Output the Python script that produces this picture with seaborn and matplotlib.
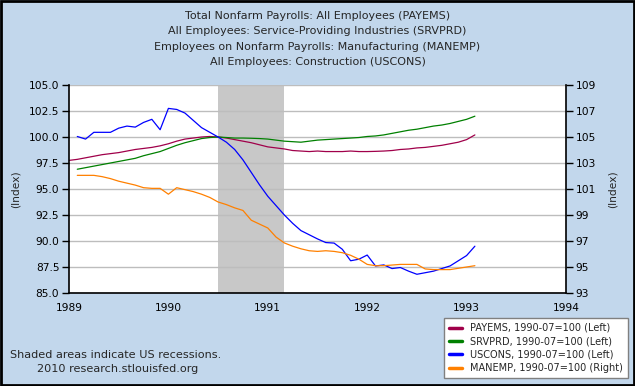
import numpy as np
import pandas as pd
import matplotlib
matplotlib.use("Agg")
import matplotlib.pyplot as plt
import seaborn as sns
from matplotlib.patches import Rectangle

# monthly index values, 1990-07 = 100
payems = [97.75, 97.85, 98.0, 98.15, 98.3, 98.4, 98.5, 98.65, 98.8, 98.9,
          99.0, 99.15, 99.35, 99.6, 99.8, 99.9, 100.0, 100.05, 100.0, 99.9,
          99.75, 99.6, 99.45, 99.25, 99.05, 98.95, 98.85, 98.7, 98.65, 98.6,
          98.65, 98.6, 98.6, 98.6, 98.65, 98.6, 98.6, 98.62, 98.65, 98.7,
          98.8, 98.85, 98.95, 99.0, 99.1, 99.2, 99.35, 99.5, 99.75, 100.2]
srvprd = [96.9, 97.05, 97.2, 97.35, 97.5, 97.65, 97.8, 97.95, 98.2, 98.4,
          98.6, 98.9, 99.2, 99.45, 99.65, 99.85, 99.95, 100.0, 99.95, 99.9,
          99.9, 99.88, 99.85, 99.8, 99.7, 99.6, 99.55, 99.5, 99.6, 99.7,
          99.75, 99.8, 99.85, 99.9, 99.95, 100.05, 100.1, 100.2, 100.35, 100.5,
          100.65, 100.75, 100.9, 101.05, 101.15, 101.3, 101.5, 101.7, 102.0]
uscons = [100.05, 99.8, 100.45, 100.45, 100.45, 100.85, 101.05, 100.95, 101.4, 101.7,
          100.7, 102.75, 102.65, 102.3, 101.6, 100.9, 100.45, 100.0, 99.5, 98.8,
          97.8, 96.6, 95.4, 94.3, 93.4, 92.5, 91.7, 91.0, 90.6, 90.2,
          89.85, 89.8, 89.2, 88.1, 88.25, 88.65, 87.6, 87.7, 87.35, 87.45,
          87.1, 86.8, 86.95, 87.1, 87.35, 87.6, 88.1, 88.6, 89.5]
manemp = [102.05, 102.05, 102.05, 101.95, 101.8, 101.6, 101.45, 101.3, 101.1, 101.05,
          101.05, 100.6, 101.1, 100.95, 100.8, 100.6, 100.35, 100.0, 99.8, 99.55,
          99.35, 98.6, 98.3, 98.0, 97.3, 96.85, 96.6, 96.4, 96.25, 96.2,
          96.25, 96.2, 96.1, 95.9, 95.6, 95.2, 95.1, 95.1, 95.15, 95.2,
          95.2, 95.2, 94.85, 94.8, 94.8, 94.8, 94.9, 95.0, 95.1]

# payems starts Jan 1989, the others Feb 1989 (decimal years)
t_pay = 1989 + np.arange(len(payems)) / 12
t_oth = 1989 + (np.arange(len(srvprd)) + 1) / 12
recession = (1990 + 6 / 12, 1991 + 2 / 12)

titles = ["Total Nonfarm Payrolls: All Employees (PAYEMS)",
          "All Employees: Service-Providing Industries (SRVPRD)",
          "Employees on Nonfarm Payrolls: Manufacturing (MANEMP)",
          "All Employees: Construction (USCONS)"]
labels = ["PAYEMS, 1990-07=100 (Left)", "SRVPRD, 1990-07=100 (Left)",
          "USCONS, 1990-07=100 (Left)", "MANEMP, 1990-07=100 (Right)"]
colors = ["#a0004a", "#008000", "#0000ff", "#ff8000"]

sns.set_style("white")
plt.rcParams['font.family'] = ['DejaVu Sans']

bg = "#c2d7ec"
fig = plt.figure(figsize=(6.35, 3.86), dpi=100, facecolor=bg)
ax = fig.add_axes([69 / 635, 1 - 293 / 386, 497 / 635, 208 / 386])
ax.set_facecolor("white")
ax2 = ax.twinx()

ax.axvspan(*recession, color="#c8c8c8", lw=0, zorder=0)

sns.lineplot(x=t_pay, y=payems, ax=ax, color=colors[0], lw=0.9)
sns.lineplot(x=t_oth, y=srvprd, ax=ax, color=colors[1], lw=0.9)
sns.lineplot(x=t_oth, y=uscons, ax=ax, color=colors[2], lw=0.9)
sns.lineplot(x=t_oth, y=manemp, ax=ax2, color=colors[3], lw=0.9)

ax.set_xlim(1989, 1994)
ax.set_ylim(85, 105)
ax2.set_ylim(93, 109)
ax.set_xticks(range(1989, 1995))
ax.set_yticks(np.arange(85, 105.1, 2.5))
ax.set_yticklabels([f"{v:.1f}" for v in np.arange(85, 105.1, 2.5)])
ax2.set_yticks(range(93, 110, 2))
ax.yaxis.grid(True, color="#bdbdbd", lw=1)
ax.set_axisbelow(True)

for a in (ax, ax2):
    a.tick_params(direction="out", length=5, width=1, colors="black",
                  labelsize=7.7, pad=2)
    for s in a.spines.values():
        s.set_color("black")
        s.set_linewidth(1.2)
    a.spines["top"].set_visible(False)
ax.spines["right"].set_visible(False)
ax2.spines["left"].set_visible(False)
ax2.spines["bottom"].set_visible(False)

ax.set_ylabel("(Index)", fontsize=7.7, labelpad=6)
ax2.set_ylabel("(Index)", fontsize=7.7, labelpad=8)

for i, t in enumerate(titles):
    fig.text(0.5, 1 - (16 + 15.3 * i) / 386, t, ha="center", va="center", fontsize=8.0)

fig.text(10 / 635, 1 - 355 / 386, "Shaded areas indicate US recessions.",
         fontsize=8.1, va="center")
fig.text(37 / 635, 1 - 369 / 386, "2010 research.stlouisfed.org",
         fontsize=8.1, va="center")

handles = [plt.Line2D([], [], color=c, lw=2.5) for c in colors]
leg = fig.legend(handles, labels, loc="lower right",
                 bbox_to_anchor=(628 / 635, 1 - 378 / 386), fontsize=7.0,
                 frameon=True, fancybox=False, handlelength=1.4,
                 handletextpad=0.8, labelspacing=0.35, borderpad=0.5,
                 borderaxespad=0)
leg.get_frame().set_edgecolor("#808080")
leg.get_frame().set_facecolor("white")
leg.get_frame().set_alpha(1)

fig.patches.append(Rectangle((0.002, 0.003), 0.996, 0.994, transform=fig.transFigure,
                             fill=False, edgecolor="black", lw=2))

fig.savefig("out.png", dpi=100, facecolor=bg)
